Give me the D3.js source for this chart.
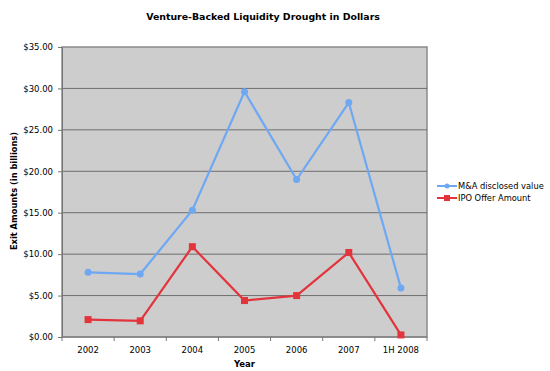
<!DOCTYPE html>
<html>
<head>
<meta charset="utf-8">
<script src="https://cdn.jsdelivr.net/npm/d3@7"></script>
<style>
  html, body { margin: 0; padding: 0; background: #fff; overflow: hidden; }
  svg { display: block; }
</style>
</head>
<body>
<svg id="chart" width="550" height="371" font-family="DejaVu Sans, sans-serif"></svg>
<script>
const years = ["2002", "2003", "2004", "2005", "2006", "2007", "1H 2008"];
const maValues = [7.8, 7.6, 15.3, 29.6, 19.0, 28.3, 5.9];
const ipoValues = [2.1, 1.95, 10.9, 4.4, 5.0, 10.2, 0.25];
const yTicks = [0, 5, 10, 15, 20, 25, 30, 35];

const series = [
  { name: "M&A disclosed value", values: maValues, color: "#6fa8f2", shape: "circle" },
  { name: "IPO Offer Amount", values: ipoValues, color: "#e3343c", shape: "square" }
];

const FONT = "DejaVu Sans, sans-serif";
const margin = { top: 47, right: 123, bottom: 34, left: 62 };
const svg = d3.select("#chart");
const innerWidth = +svg.attr("width") - margin.left - margin.right;
const innerHeight = +svg.attr("height") - margin.top - margin.bottom;

const xScale = d3.scaleBand().domain(years).range([0, innerWidth]);
const yScale = d3.scaleLinear().domain([0, 35]).range([innerHeight, 0]);

const g = svg.append("g").attr("transform", `translate(${margin.left},${margin.top})`);

// title
svg.append("text")
  .attr("x", 263).attr("y", 20)
  .attr("text-anchor", "middle")
  .attr("font-family", FONT).attr("font-weight", "bold").attr("font-size", 9.4)
  .text("Venture-Backed Liquidity Drought in Dollars");

// plot background
g.append("rect")
  .attr("width", innerWidth).attr("height", innerHeight)
  .attr("fill", "#cdcdcd").attr("stroke", "#8a8a8a").attr("stroke-width", 1.5);

// gridlines
g.selectAll(".grid").data(yTicks.slice(1, -1)).enter().append("line")
  .attr("x1", 0).attr("x2", innerWidth)
  .attr("y1", d => yScale(d)).attr("y2", d => yScale(d))
  .attr("stroke", "#6e6e6e").attr("stroke-width", 1);

// y axis
const yAxis = d3.axisLeft(yScale).tickValues(yTicks).tickSize(4).tickPadding(5)
  .tickFormat(d => "$" + d3.format(".2f")(d));
const yAxisG = g.append("g").call(yAxis)
  .attr("font-family", FONT).attr("font-size", 8.5);
yAxisG.selectAll("line, path").attr("stroke", "#777");

// x axis, ticks at band edges
const xAxisG = g.append("g").attr("transform", `translate(0,${innerHeight})`);
xAxisG.append("line").attr("x1", 0).attr("x2", innerWidth).attr("stroke", "#777");
xAxisG.selectAll(".xt").data(d3.range(years.length + 1)).enter().append("line")
  .attr("x1", i => i * xScale.step()).attr("x2", i => i * xScale.step())
  .attr("y1", 0).attr("y2", 4).attr("stroke", "#777");
xAxisG.selectAll(".xl").data(years).enter().append("text")
  .attr("x", d => xScale(d) + xScale.bandwidth() / 2)
  .attr("y", 16).attr("text-anchor", "middle")
  .attr("font-family", FONT).attr("font-size", 8.5)
  .text(d => d);

// axis labels
svg.append("text")
  .attr("x", margin.left + innerWidth / 2).attr("y", 367)
  .attr("text-anchor", "middle")
  .attr("font-family", FONT).attr("font-weight", "bold").attr("font-size", 8.5)
  .text("Year");
svg.append("text")
  .attr("transform", `translate(17,${margin.top + innerHeight / 2 - 1}) rotate(-90)`)
  .attr("text-anchor", "middle")
  .attr("font-family", FONT).attr("font-weight", "bold").attr("font-size", 8.3)
  .text("Exit Amounts (in billions)");

// lines
const line = d3.line()
  .x((d, i) => xScale(years[i]) + xScale.bandwidth() / 2)
  .y(d => yScale(d));

series.forEach(s => {
  g.append("path").datum(s.values)
    .attr("fill", "none").attr("stroke", s.color).attr("stroke-width", 2.2)
    .attr("d", line);
  const cx = (d, i) => xScale(years[i]) + xScale.bandwidth() / 2;
  if (s.shape === "circle") {
    g.selectAll(null).data(s.values).enter().append("circle")
      .attr("cx", cx).attr("cy", d => yScale(d)).attr("r", 3.5)
      .attr("fill", s.color);
  } else {
    g.selectAll(null).data(s.values).enter().append("rect")
      .attr("x", (d, i) => cx(d, i) - 3.5).attr("y", d => yScale(d) - 3.5)
      .attr("width", 7).attr("height", 7)
      .attr("fill", s.color);
  }
});

// legend
const legend = svg.selectAll(".legend").data(series).enter().append("g")
  .attr("transform", (d, i) => `translate(437,${186 + i * 12})`);
legend.append("line").attr("x1", 0).attr("x2", 20)
  .attr("stroke", d => d.color).attr("stroke-width", 2);
legend.each(function (d) {
  const el = d3.select(this);
  if (d.shape === "circle") el.append("circle").attr("cx", 10).attr("r", 2.5).attr("fill", d.color);
  else el.append("rect").attr("x", 7).attr("y", -3).attr("width", 6).attr("height", 6).attr("fill", d.color);
});
legend.append("text").attr("x", 21).attr("y", 3.2)
  .attr("font-family", FONT).attr("font-size", 8.3)
  .text(d => d.name);
</script>
</body>
</html>
